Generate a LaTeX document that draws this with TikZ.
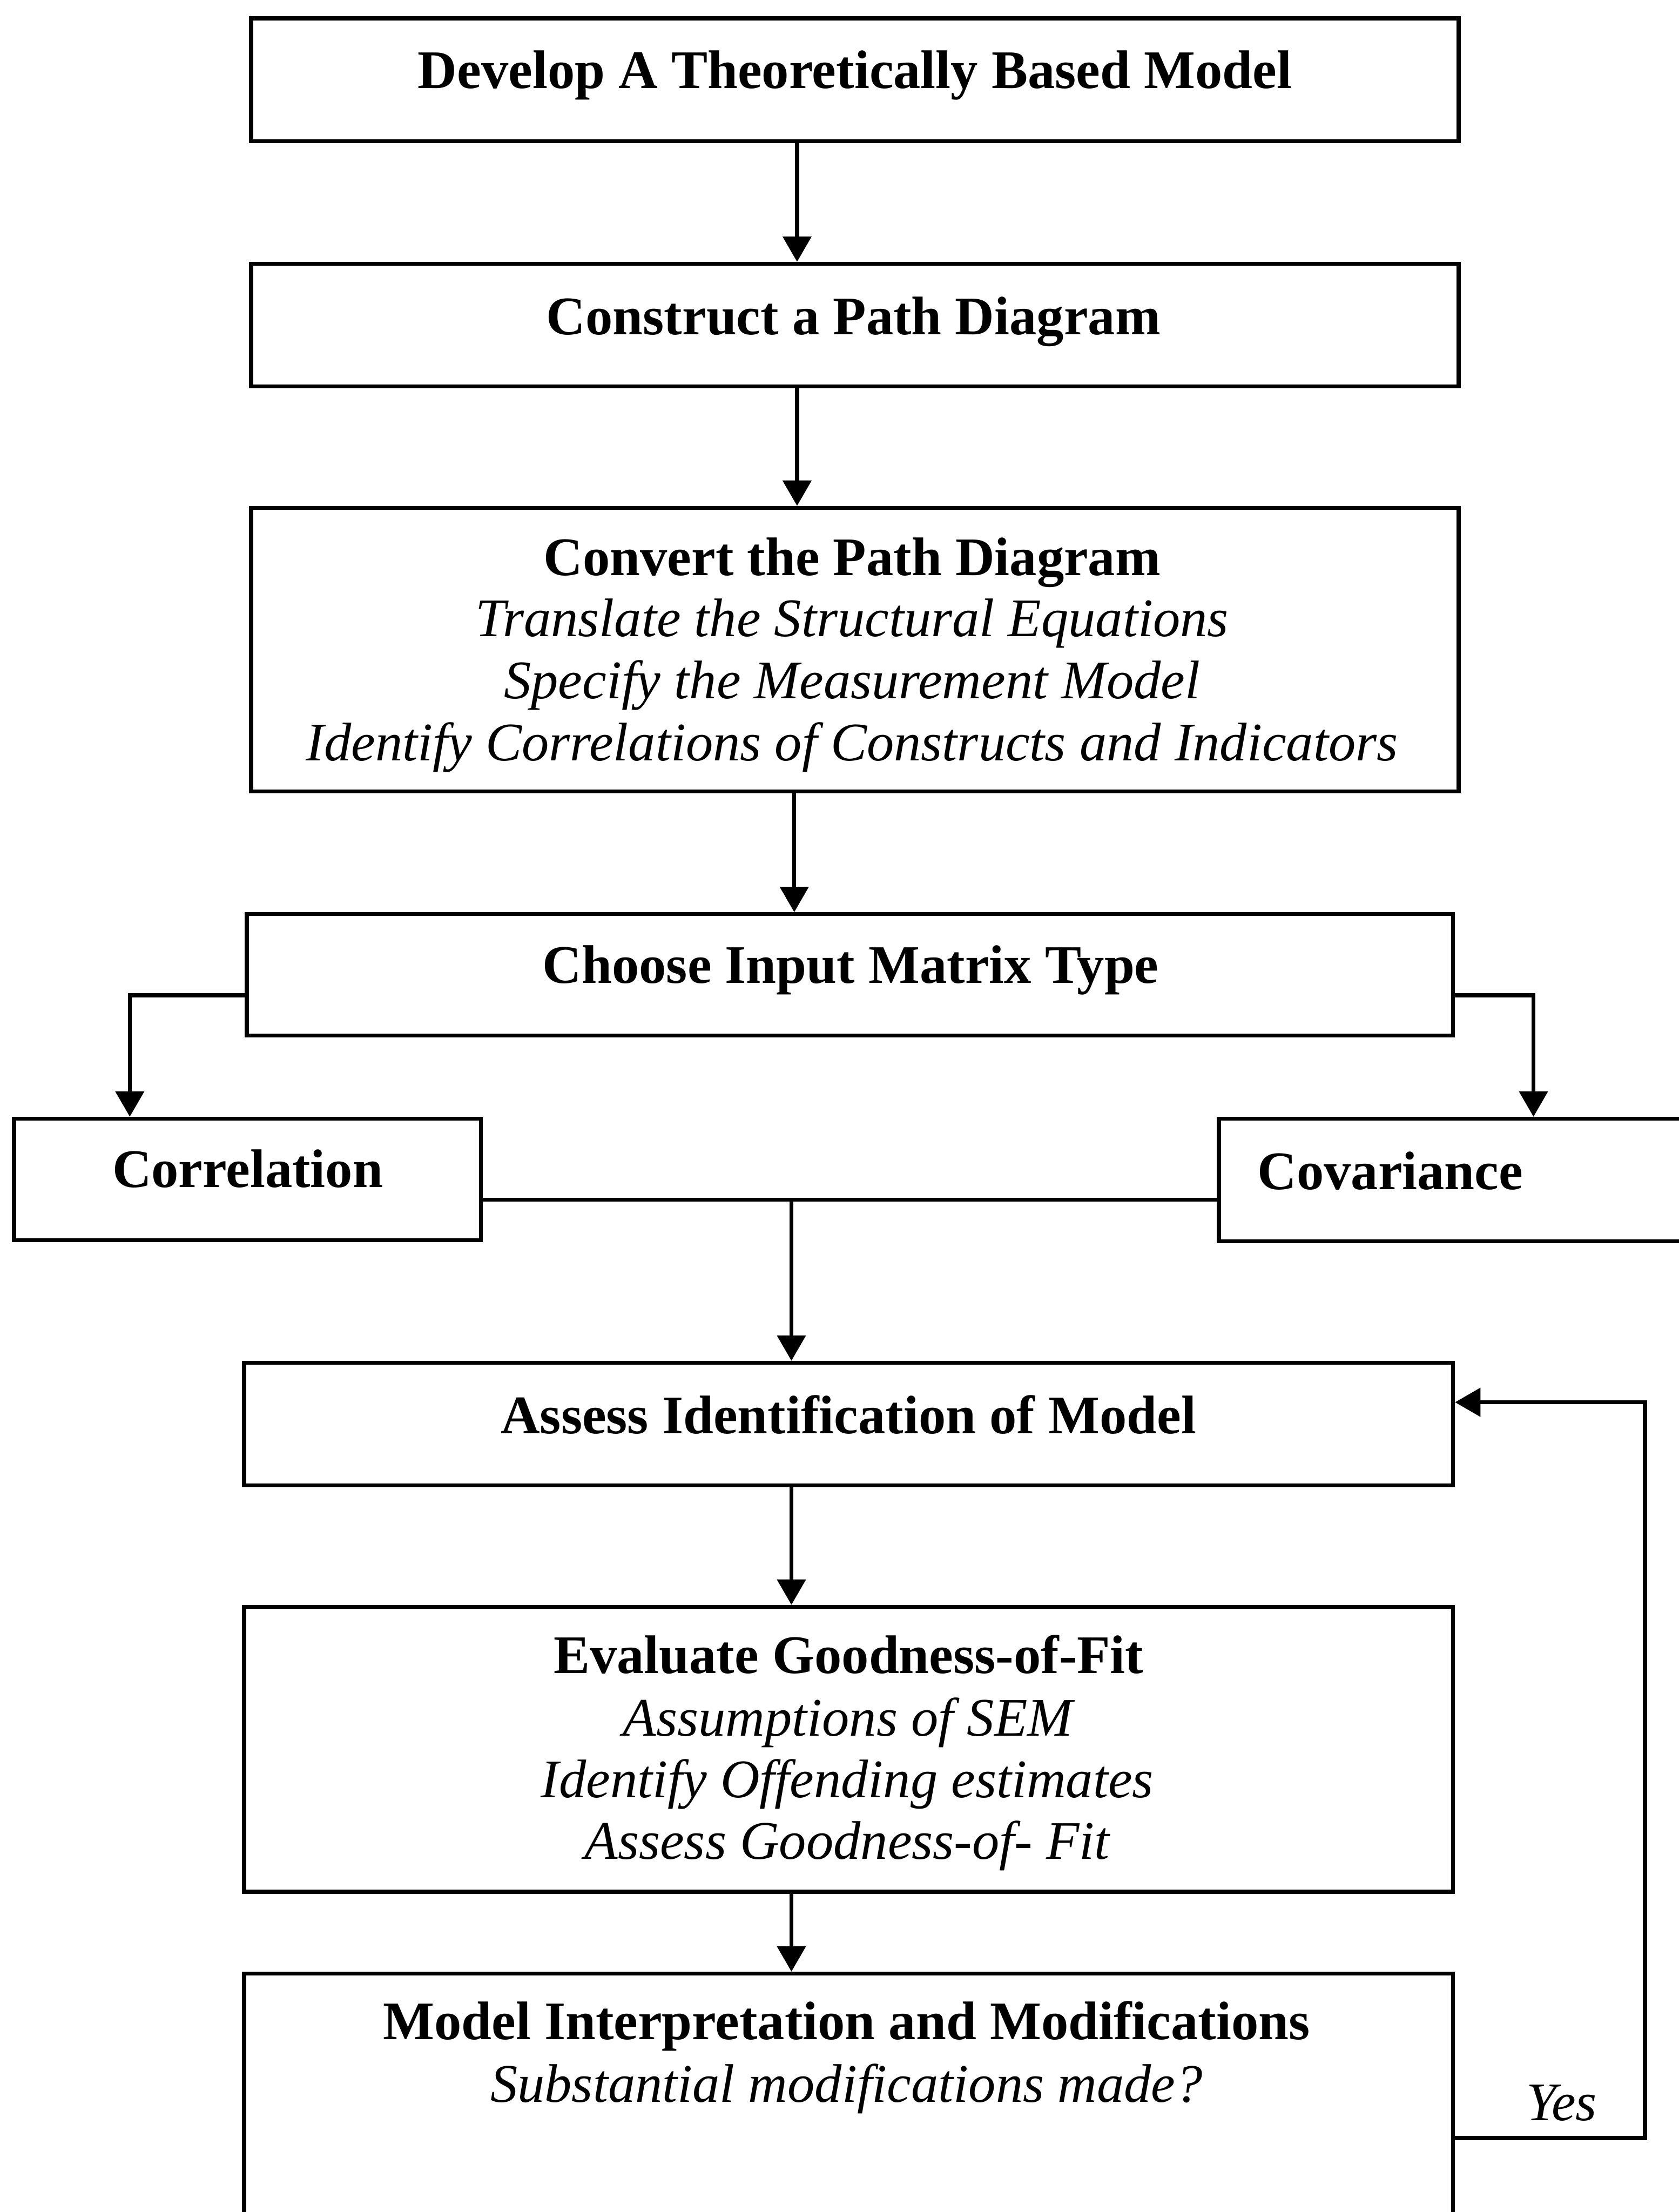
\documentclass[tikz,border=0pt]{standalone}
\usepackage{fontspec}
\setmainfont{Liberation Serif}
\usetikzlibrary{arrows.meta}
\begin{document}
\begin{tikzpicture}[x=0.5pt,y=-0.5pt,
  line/.style={line width=1.4pt},
  box/.style={line, draw, rectangle, inner sep=0pt},
  arr/.style={line, -{Triangle[length=9pt,width=10pt]}},
  ttl/.style={anchor=base, inner sep=0pt, font=\fontsize{19.25pt}{22pt}\selectfont\bfseries},
  sub/.style={anchor=base, inner sep=0pt, font=\fontsize{19.25pt}{22pt}\selectfont\itshape}]
\useasboundingbox (0,0) rectangle (1190,1568);

% process boxes
\node[box, minimum width=428pt, minimum height=43.5pt] (b1) at (606,56.5) {};
\node[box, minimum width=428pt, minimum height=43.5pt] (b2) at (606,230.5) {};
\node[box, minimum width=428pt, minimum height=100.5pt] (b3) at (606,460.5) {};
\node[box, minimum width=427.5pt, minimum height=43pt] (b4) at (602.5,691) {};
\node[box, minimum width=165.5pt, minimum height=43pt] (corr) at (175.5,836) {};
\node[box, minimum width=198pt, minimum height=43.5pt] (cov) at (1062,836.5) {};
\node[box, minimum width=428.5pt, minimum height=43.5pt] (b5) at (601.5,1009.5) {};
\node[box, minimum width=428.5pt, minimum height=101pt] (b6) at (601.5,1240) {};
\node[box, minimum width=428.5pt, minimum height=125.5pt] (b7) at (601.5,1524.5) {};

% box texts
\node[ttl] (t1) at (606,62.5) {Develop A Theoretically Based Model};
\node[ttl] (t2) at (605,237) {Construct a Path Diagram};
\node[ttl] (t3) at (604,408) {Convert the Path Diagram};
\node[sub] (t3a) at (604,451) {Translate the Structural Equations};
\node[sub] (t3b) at (604,495) {Specify the Measurement Model};
\node[sub] (t3c) at (604,539) {Identify Correlations of Constructs and Indicators};
\node[ttl] (t4) at (603,697) {Choose Input Matrix Type};
\node[ttl] (tcorr) at (175.5,841.5) {Correlation};
\node[ttl, anchor=base west] (tcov) at (891,843) {Covariance};
\node[ttl] (t5) at (601.5,1016) {Assess Identification of Model};
\node[ttl] (t6) at (601.5,1186) {Evaluate Goodness-of-Fit};
\node[sub] (t6a) at (601,1230.5) {Assumptions of SEM};
\node[sub] (t6b) at (600.5,1274) {Identify Offending estimates};
\node[sub] (t6c) at (600.5,1318) {Assess Goodness-of- Fit};
\node[ttl] (t7) at (600,1445.5) {Model Interpretation and Modifications};
\node[sub] (t7a) at (600,1490) {Substantial modifications made?};
\node[sub] (yes) at (1107,1503) {Yes};

% connector guide positions
\coordinate (xa) at (565,0);
\coordinate (xb) at (563,0);
\coordinate (xc) at (561,0);
\coordinate (xl) at (92,0);
\coordinate (xr) at (1087,0);
\coordinate (xf) at (1166,0);
\coordinate (yl) at (0,705.5);
\coordinate (ym) at (0,850.5);
\coordinate (yf) at (0,994);
\coordinate (yy) at (0,1515.5);

% connectors
\draw[arr] (b1.south -| xa) -- (b2.north -| xa);
\draw[arr] (b2.south -| xa) -- (b3.north -| xa);
\draw[arr] (b3.south -| xb) -- (b4.north -| xb);
\draw[arr] (b4.west |- yl) -| (xl |- corr.north);
\draw[arr] (b4.east |- yl) -| (xr |- cov.north);
\draw[line] (corr.east |- ym) -- (cov.west |- ym);
\draw[arr] (xc |- ym) -- (b5.north -| xc);
\draw[arr] (b5.south -| xc) -- (b6.north -| xc);
\draw[arr] (b6.south -| xc) -- (b7.north -| xc);
\draw[arr] (b7.east |- yy) -| (xf |- yf) -- (b5.east |- yf);
\end{tikzpicture}
\end{document}
